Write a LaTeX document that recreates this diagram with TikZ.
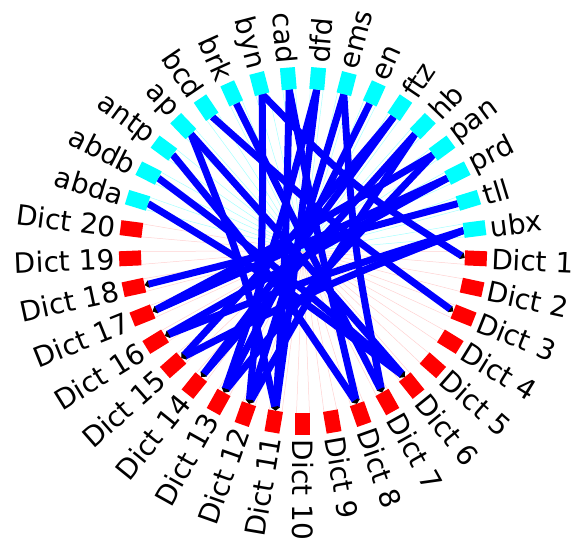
\documentclass[tikz,border=0pt]{standalone}
\usepackage{fontspec}
\setmainfont{DejaVu Sans}
\usetikzlibrary{arrows.meta,calc}
\definecolor{dictred}{RGB}{255,0,0}
\definecolor{namecyan}{RGB}{0,255,255}
\definecolor{chordblue}{RGB}{0,0,255}

\newcommand{\chordline}[2]{\draw[chord] (#1) .. controls ($0.42*(#1)+0.42*(#2)$) .. (#2);}

\begin{document}
\begin{tikzpicture}[x=1pt, y=1pt,
    nodebox/.style={rectangle, minimum width=22pt, minimum height=15pt, inner sep=0pt},
    dictbox/.style={nodebox, fill=dictred},
    namebox/.style={nodebox, fill=namecyan},
    nodetext/.style={inner sep=0pt, font=\fontsize{28}{30}\selectfont},
    spoke/.style={line width=0.5pt},
    chord/.style={chordblue, line width=7pt, -{Triangle[black, length=4pt, width=7.5pt]}}
]
\useasboundingbox (-303,-291) rectangle (271,251);
\coordinate (O) at (0,0);

% ring of nodes, clockwise from Dict 1
\foreach \id/\txt [count=\i from 0] in {d1/Dict 1, d2/Dict 2, d3/Dict 3, d4/Dict 4, d5/Dict 5,
    d6/Dict 6, d7/Dict 7, d8/Dict 8, d9/Dict 9, d10/Dict 10, d11/Dict 11, d12/Dict 12,
    d13/Dict 13, d14/Dict 14, d15/Dict 15, d16/Dict 16, d17/Dict 17, d18/Dict 18,
    d19/Dict 19, d20/Dict 20, abda/abda, abdb/abdb, antp/antp, ap/ap, bcd/bcd, brk/brk,
    byn/byn, cad/cad, dfd/dfd, ems/ems, en/en, ftz/ftz, hb/hb, pan/pan, prd/prd,
    tll/tll, ubx/ubx} {
  \pgfmathsetmacro{\ang}{270-(\i-9)*360/37}
  \ifnum\i<20 \def\tint{dictred!18}\else\def\tint{namecyan!35}\fi
  \draw[spoke, \tint] (O) -- (\ang+2.3:162);
  \draw[spoke, \tint] (O) -- (\ang-2.3:162);
  \coordinate (\id) at (\ang:162);
}

% connections
\chordline{tll}{d18}
\chordline{ubx}{d15}
\chordline{ubx}{d16}
\chordline{prd}{d16}
\chordline{prd}{d17}
\chordline{pan}{d13}
\chordline{pan}{d17}
\chordline{hb}{d12}
\chordline{hb}{d14}
\chordline{ftz}{d14}
\chordline{ftz}{d15}
\chordline{en}{d13}
\chordline{ems}{d12}
\chordline{ems}{d7}
\chordline{dfd}{d11}
\chordline{dfd}{d13}
\chordline{cad}{d8}
\chordline{cad}{d11}
\chordline{byn}{d1}
\chordline{byn}{d12}
\chordline{brk}{d7}
\chordline{bcd}{d3}
\chordline{ap}{d11}
\chordline{ap}{d6}
\chordline{antp}{d8}
\chordline{abdb}{d6}
\chordline{abda}{d6}

% boxes and labels
\foreach \id/\txt [count=\i from 0] in {d1/Dict 1, d2/Dict 2, d3/Dict 3, d4/Dict 4, d5/Dict 5,
    d6/Dict 6, d7/Dict 7, d8/Dict 8, d9/Dict 9, d10/Dict 10, d11/Dict 11, d12/Dict 12,
    d13/Dict 13, d14/Dict 14, d15/Dict 15, d16/Dict 16, d17/Dict 17, d18/Dict 18,
    d19/Dict 19, d20/Dict 20, abda/abda, abdb/abdb, antp/antp, ap/ap, bcd/bcd, brk/brk,
    byn/byn, cad/cad, dfd/dfd, ems/ems, en/en, ftz/ftz, hb/hb, pan/pan, prd/prd,
    tll/tll, ubx/ubx} {
  \pgfmathsetmacro{\ang}{270-(\i-9)*360/37}
  \ifnum\i<20 \def\boxstyle{dictbox}\else\def\boxstyle{namebox}\fi
  \node[\boxstyle, rotate=\ang] (\id-box) at (\ang:173) {};
  \pgfmathparse{(\ang>90)&&(\ang<270) ? 1 : 0}
  \ifnum\pgfmathresult=1
    \node[nodetext, anchor=east, rotate=\ang-180] (\id-txt) at (\ang:188.5) {\txt};
  \else
    \node[nodetext, anchor=west, rotate=\ang] (\id-txt) at (\ang:188.5) {\txt};
  \fi
}
\end{tikzpicture}
\end{document}
